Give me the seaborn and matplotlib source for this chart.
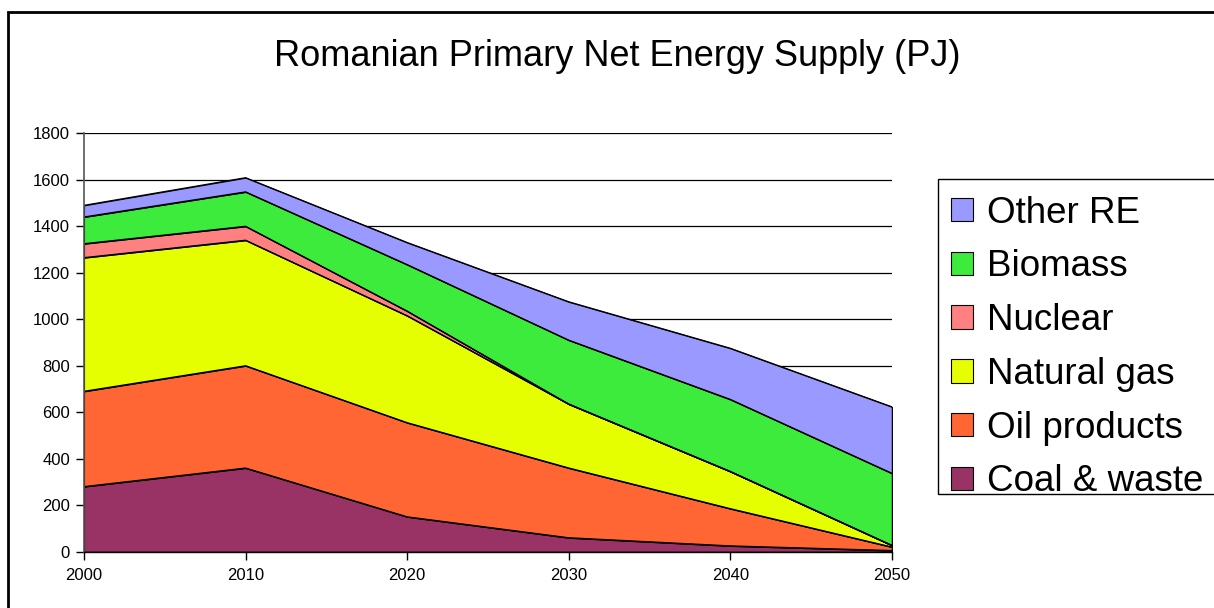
import matplotlib
matplotlib.use("Agg")
import matplotlib.pyplot as plt
import numpy as np
import pandas as pd
import seaborn as sns
from matplotlib.patches import Patch, Rectangle

# Primary net energy supply by source, PJ
years = [2000, 2010, 2020, 2030, 2040, 2050]
coal_waste = [280, 360, 150, 60, 25, 5]
oil_products = [410, 440, 405, 300, 160, 15]
natural_gas = [575, 540, 460, 275, 160, 7]
nuclear = [60, 60, 20, 0, 0, 0]
biomass = [115, 148, 200, 275, 310, 310]
other_re = [50, 61, 95, 165, 220, 286]

series_names = ["Coal & waste", "Oil products", "Natural gas", "Nuclear", "Biomass", "Other RE"]
series_colors = ["#993366", "#FF6633", "#E6FF00", "#FF8080", "#3DEB3D", "#9999FF"]
y_ticks = [0, 200, 400, 600, 800, 1000, 1200, 1400, 1600, 1800]

df = pd.DataFrame({
    "year": years,
    "Coal & waste": coal_waste,
    "Oil products": oil_products,
    "Natural gas": natural_gas,
    "Nuclear": nuclear,
    "Biomass": biomass,
    "Other RE": other_re,
})

sns.set_theme(style="white")
plt.rcParams["font.family"] = ["Liberation Sans", "DejaVu Sans"]

W, H = 1214, 608
fig = plt.figure(figsize=(W / 100, H / 100), dpi=100)
ax = fig.add_axes([84 / W, 1 - 551.7 / H, (892 - 84) / W, (551.7 - 133.3) / H])

# gridlines behind the areas
for v in y_ticks[1:]:
    ax.axhline(v, color="black", lw=0.9, zorder=0)

ax.stackplot(df["year"], *[df[n] for n in series_names], colors=series_colors,
             edgecolor="black", linewidth=0.8, zorder=2)

# boundary lines between stacked layers
cum = df[series_names].cumsum(axis=1)
for n in series_names:
    sns.lineplot(x=df["year"], y=cum[n], ax=ax, color="black", lw=0.9, zorder=3)
ax.vlines(years[-1], 0, cum[series_names[-1]].iloc[-1], color="black", lw=1.0, zorder=3)

ax.set_xlim(2000, 2050)
ax.set_ylim(0, 1800)
ax.set_xticks(years)
ax.set_yticks(y_ticks)
ax.set_xlabel("")
ax.set_ylabel("")
ax.tick_params(axis="both", which="major", labelsize=12, length=6, width=1,
               color="black", direction="out", left=True, bottom=True, pad=4,
               labelcolor="black")
ax.tick_params(axis="x", pad=6)
for s in ["top", "right"]:
    ax.spines[s].set_visible(False)
ax.spines["left"].set_color("#555555")
ax.spines["left"].set_linewidth(1.2)
ax.spines["bottom"].set_color("black")
ax.spines["bottom"].set_linewidth(1.0)
ax.spines["left"].set_zorder(4)
ax.spines["bottom"].set_zorder(4)

fig.text(617 / W, 1 - 57 / H, "Romanian Primary Net Energy Supply (PJ)",
         ha="center", va="center", fontsize=26, color="black")

handles = [Patch(facecolor=c, edgecolor="black", linewidth=0.8, label=n)
           for n, c in zip(series_names, series_colors)]
leg = fig.legend(handles=handles[::-1], labels=series_names[::-1],
                 loc="upper left", bbox_to_anchor=(934 / W, 1 - 179 / H),
                 bbox_transform=fig.transFigure, fontsize=26.5, frameon=False,
                 handlelength=0.6, handleheight=0.6,
                 handletextpad=0.4, labelspacing=0.51, borderpad=0.45, borderaxespad=0)
for t in leg.get_texts():
    t.set_color("black")

# legend box
fig.patches.append(Rectangle((938 / W, 1 - 494 / H), (W + 20 - 938) / W, (494 - 179) / H,
                             transform=fig.transFigure, fill=False,
                             edgecolor="black", linewidth=1.0, zorder=5))

# outer border of the chart area
fig.patches.append(Rectangle((8 / W, -0.05), 1.2, 1 - 11.5 / H + 0.05,
                             transform=fig.transFigure, fill=False,
                             edgecolor="black", linewidth=2.0, zorder=10))

fig.savefig("out.png", dpi=100, facecolor="white")
